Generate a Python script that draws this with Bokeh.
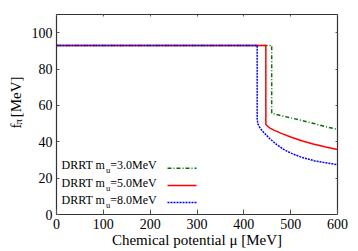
import math
from bokeh.plotting import figure
from bokeh.layouts import row
from bokeh.models import Range1d, LinearAxis, Label, FixedTicker
from bokeh.core.properties import value
from bokeh.embed import file_html
from bokeh.resources import INLINE

# ---- data ----
mu_green = [0, 459.5, 459.5, 470, 480, 500, 525, 550, 575, 600]
f_green = [93, 93, 55.7, 55.0, 54.3, 53.2, 51.6, 50.0, 48.3, 46.8]
mu_red = [0, 447, 447, 455, 465, 480, 500, 525, 550, 575, 600]
f_red = [93, 93, 49.5, 47.6, 46.3, 44.6, 42.6, 40.4, 38.6, 37.1, 35.8]
mu_blue = [0, 428.5, 428.5, 430, 435, 443, 455, 470, 485, 500, 525, 550, 575, 600]
f_blue = [93, 93, 52.6, 49.8, 47.4, 45.0, 41.8, 38.5, 35.8, 33.8, 31.3, 29.6, 28.4, 27.4]

x_ticks = [0, 100, 200, 300, 400, 500, 600]
y_ticks = [0, 20, 40, 60, 80, 100]
legend_masses = ["3.0", "5.0", "8.0"]

FONT = "Liberation Serif"
AX = "#333333"
H = 251
LW = 26  # width of the strip that holds the y-axis title

p = figure(width=350 - LW, height=H, x_range=Range1d(0, 600), y_range=Range1d(0, 110),
           output_backend="svg", toolbar_location=None,
           min_border_left=56 - LW, min_border_right=13, min_border_top=14, min_border_bottom=37,
           x_axis_location=None, y_axis_location=None)
p.grid.visible = False
p.outline_line_color = AX
p.outline_line_width = 1.2
p.background_fill_color = "white"
p.border_fill_color = "white"

def mk_axis(ticks, tick_in, show_labels):
    ax = LinearAxis(ticker=FixedTicker(ticks=ticks))
    ax.axis_line_color = None
    ax.major_tick_in = tick_in
    ax.major_tick_out = 0
    ax.major_tick_line_color = "#555555"
    ax.minor_tick_line_color = None
    ax.major_label_text_font = FONT
    ax.major_label_text_color = "black"
    ax.major_label_text_font_size = "14px"
    if show_labels:
        ax.major_label_standoff = 4
    else:
        ax.major_label_standoff = 0
        ax.major_label_overrides = {t: "" for t in ticks}
    return ax

xb = mk_axis(x_ticks, 5, True)
xb.axis_label = "Chemical potential \u03bc [MeV]"
xb.axis_label_text_font = FONT
xb.axis_label_text_font_size = "15px"
xb.axis_label_text_font_style = "normal"
xb.axis_label_text_color = "black"
xb.axis_label_standoff = 0
p.add_layout(xb, "below")
p.add_layout(mk_axis(y_ticks, 3, True), "left")
p.add_layout(mk_axis(x_ticks, 2, False), "above")
p.add_layout(mk_axis(y_ticks, 2, False), "right")

styles = [
    (mu_green, f_green, "#0a6e0a", "4 2 1 2"),
    (mu_red, f_red, "#ff0000", "solid"),
    (mu_blue, f_blue, "#0000ff", "2 1"),
]
for xs, ys, col, dash in styles:
    p.line(xs, ys, line_color=col, line_width=1.5, line_dash=dash)

# pixel -> data helpers for text placement (frame: x 56..337, y 14..214)
def dx(px):
    return (px - 56) * 600 / 281
def dy(py):
    return (214 - py) * 110 / 200

def lab(x, y, s, size, **kw):
    p.add_layout(Label(x=x, y=y, text=s, text_font=FONT, text_font_size=f"{size}px",
                       text_color="black", **kw))

# legend (text left, sample right)
row_y = [167.7, 185.0, 202.0]
for (xs, ys, col, dash), m, ry in zip(styles, legend_masses, row_y):
    p.line([dx(167), dx(196)], [dy(ry), dy(ry)], line_color=col, line_width=1.5, line_dash=dash)
    base = dy(ry + 4)
    lab(dx(61), base, "DRRT m", 12)
    lab(dx(61), base, "u", 8.5, x_offset=44.5, y_offset=-3)
    lab(dx(61), base, "=" + m + "MeV", 12, x_offset=48.8)

# narrow strip holding the rotated y-axis title f_pi [MeV]
t = figure(width=LW, height=H, x_range=Range1d(0, LW), y_range=Range1d(0, H),
           output_backend="svg", toolbar_location=None, min_border=0,
           x_axis_location=None, y_axis_location=None)
t.grid.visible = False
t.outline_line_color = None
t.background_fill_color = "white"
t.border_fill_color = "white"
ang = math.pi / 2
t.text(x=[15], y=[H - 143], text=["f"], angle=ang, text_font=value(FONT),
       text_font_size="15px", text_align="left", text_baseline="alphabetic", text_color="black")
t.text(x=[17.5], y=[H - 138], text=["\u03c0"], angle=ang, text_font=value(FONT),
       text_font_size="10.5px", text_align="left", text_baseline="alphabetic", text_color="black")
t.text(x=[15], y=[H - 129], text=["[MeV]"], angle=ang, text_font=value(FONT),
       text_font_size="15px", text_align="left", text_baseline="alphabetic", text_color="black")

layout = row(t, p, spacing=0)
open("out.html", "w").write(file_html(layout, INLINE))
